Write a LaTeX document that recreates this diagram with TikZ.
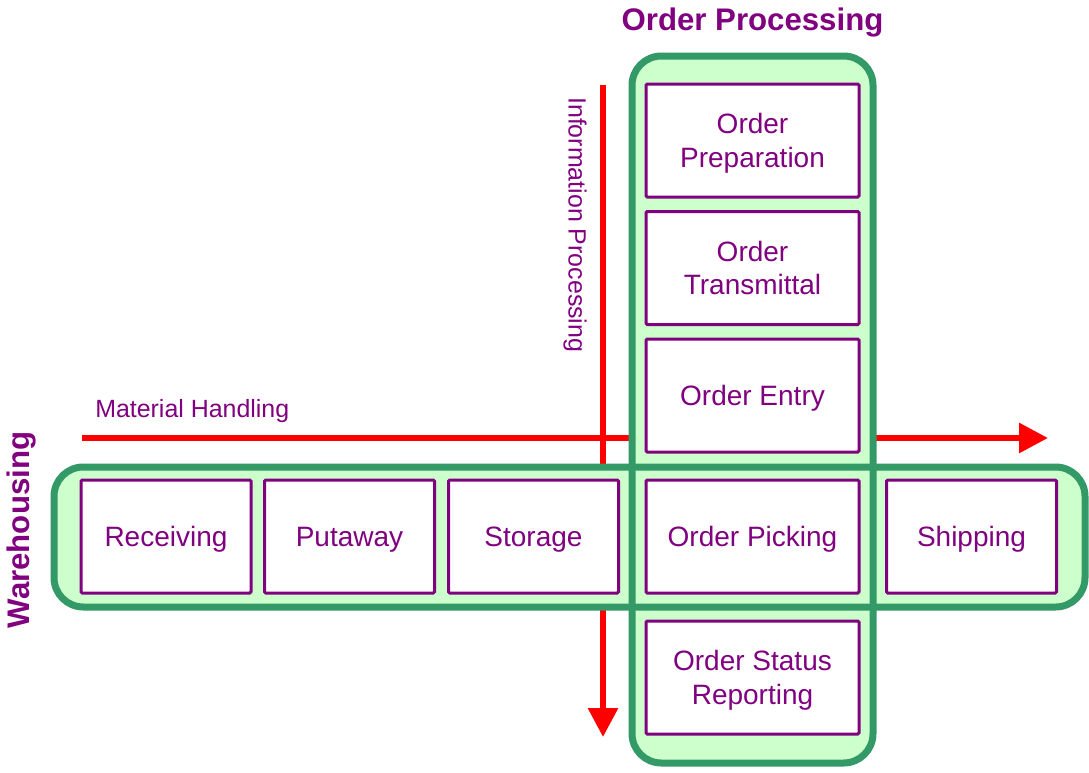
\documentclass[tikz,border=0pt]{standalone}
\usepackage{fontspec}
\setmainfont{Liberation Sans}
\usetikzlibrary{arrows.meta}
\definecolor{pur}{HTML}{800080}
\definecolor{grn}{HTML}{339966}
\definecolor{lgrn}{HTML}{CCFFCC}
\definecolor{rd}{HTML}{FF0000}
\tikzset{
  stagebox/.style={draw=pur, line width=2.25pt, fill=white, rounded corners=1pt,
    text=pur, align=center, font=\fontsize{21}{25}\selectfont, inner sep=0pt, text depth=0pt},
  colbox/.style={stagebox, minimum width=159.75pt, minimum height=84.75pt},
  rowbox/.style={stagebox, minimum width=127.5pt, minimum height=84.75pt},
  bandfill/.style={fill=lgrn, rounded corners=22pt},
  bandline/.style={draw=grn, line width=5.25pt, rounded corners=22pt},
  flow/.style={draw=rd, line width=4.5pt, -{Triangle[length=21.75pt, width=21.75pt]}},
  title/.style={text=pur, font=\bfseries\fontsize{23.4}{28}\selectfont, inner sep=0pt},
  axislabel/.style={text=pur, font=\fontsize{18.7}{22}\selectfont, inner sep=0pt}
}
\begin{document}
\begin{tikzpicture}[x=0.75pt, y=-0.75pt]
\useasboundingbox (0,0) rectangle (1089,772);
% red flow lines
\coordinate (mhs) at (82,438);
\coordinate (mhe) at (1048,438);
\coordinate (ips) at (603,85);
\coordinate (ipe) at (603,737);
\draw[flow] (mhs) -- (mhe);
\draw[flow] (ips) -- (ipe);
% green bands
\fill[bandfill] (632,56) rectangle (873,763);
\fill[bandfill] (54,467) rectangle (1085,607);
\draw[bandline] (632,56) rectangle (873,763);
\draw[bandline] (54,467) rectangle (1085,607);
% column boxes
\node[colbox] (prep) at (752.5,140.5) {Order\\Preparation};
\node[colbox] (trans) at (752.5,268) {Order\\Transmittal};
\node[colbox] (entry) at (752.5,395.5) {Order Entry};
\node[colbox] (pick) at (752.5,536.5) {Order Picking};
\node[colbox] (status) at (752.5,677.5) {Order Status\\Reporting};
% row boxes
\node[rowbox] (recv) at (166,536.5) {Receiving};
\node[rowbox] (put) at (349.5,536.5) {Putaway};
\node[rowbox] (stor) at (533.5,536.5) {Storage};
\node[rowbox] (ship) at (971.5,536.5) {Shipping};
% labels
\node[title] (op) at (752.5,22) {Order Processing};
\node[title, rotate=90] (wh) at (22,530) {Warehousing};
\node[axislabel, anchor=west] (mh) at (95,411) {Material Handling};
\node[axislabel, rotate=-90, anchor=west] (ip) at (575,97) {Information Processing};
\end{tikzpicture}
\end{document}
